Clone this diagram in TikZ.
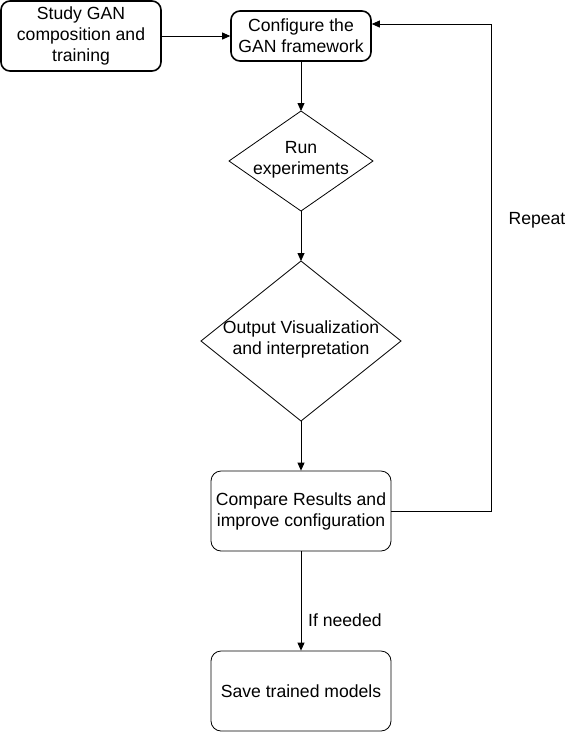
\documentclass[tikz,border=0pt]{standalone}
\usepackage{fontspec}
\setmainfont{Liberation Sans}
\usetikzlibrary{arrows.meta,shapes.geometric}
\begin{document}
\begin{tikzpicture}[x=1pt,y=-1pt,
  every node/.style={font=\fontsize{17.6}{21}\selectfont, align=center, inner sep=0pt},
  boxa/.style={draw, line width=1.6pt, rounded corners=9pt, minimum width=#1, minimum height=50pt},
  boxb/.style={draw, line width=0.8pt, rounded corners=10pt, minimum width=180pt, minimum height=80pt},
  dia/.style={draw, line width=0.8pt},
  arr/.style={-{Triangle[length=8pt,width=7pt]}, line width=0.8pt}]
\useasboundingbox (0,0) rectangle (572,732);
\node[boxa=160pt, minimum height=70pt] (study) at (81,36) {Study GAN\\composition and\\training};
\node[boxa=140pt] (conf) at (301,36) {Configure the\\GAN framework};
\draw[dia] (229,161) -- (301,111) -- (373,161) -- (301,211) -- cycle;
\node (run) at (301,160) {Run\\experiments};
\coordinate (runT) at (301,111);
\coordinate (runB) at (301,211);
\draw[dia] (201,341) -- (301,261) -- (401,341) -- (301,421) -- cycle;
\node (out) at (301,339) {Output Visualization\\and interpretation};
\coordinate (outT) at (301,261);
\coordinate (outB) at (301,421);
\node[boxb] (cmp) at (301,511) {Compare Results and\\improve configuration};
\node[boxb] (save) at (301,691) {Save trained models};
\draw[arr] (study.east) -- (conf.west);
\draw[arr] (conf.south) -- (runT);
\draw[arr] (runB) -- (outT);
\draw[arr] (outB) -- (cmp.north);
\draw[arr] (cmp.south) -- (save.north);
\node[anchor=west] (ifn) at (308,620) {If needed};
\coordinate (c1) at (491,511);
\coordinate (c2) at (491,24);
\draw[arr] (cmp.east) -- (c1) -- (c2) -- (conf.east |- c2);
\node (rep) at (537,220) {Repeat};
\end{tikzpicture}
\end{document}
